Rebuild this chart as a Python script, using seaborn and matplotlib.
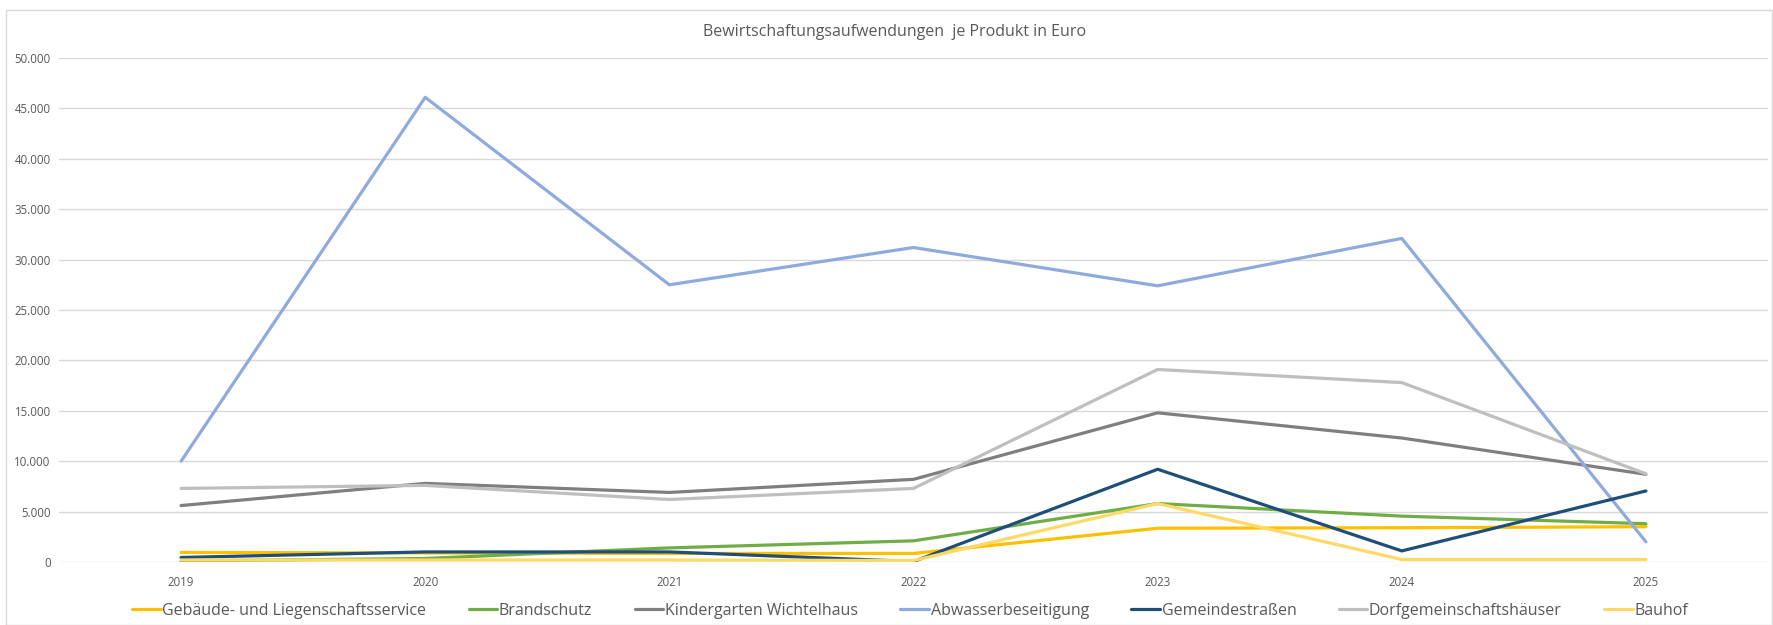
import pandas as pd
import matplotlib
matplotlib.use("Agg")
import matplotlib.pyplot as plt
import matplotlib.ticker as mticker
import seaborn as sns

years = ["2019", "2020", "2021", "2022", "2023", "2024", "2025"]
gebaeude = [950, 900, 850, 850, 3350, 3400, 3500]
brandschutz = [100, 350, 1400, 2100, 5800, 4550, 3800]
kindergarten = [5600, 7800, 6900, 8200, 14800, 12300, 8700]
abwasser = [10000, 46100, 27500, 31200, 27400, 32100, 2000]
strassen = [450, 1000, 1000, 50, 9200, 1100, 7050]
dorf = [7300, 7600, 6200, 7300, 19100, 17800, 8750]
bauhof = [200, 200, 200, 150, 5800, 250, 250]

series = {
    "Gebäude- und Liegenschaftsservice": gebaeude,
    "Brandschutz": brandschutz,
    "Kindergarten Wichtelhaus": kindergarten,
    "Abwasserbeseitigung": abwasser,
    "Gemeindestraßen": strassen,
    "Dorfgemeinschaftshäuser": dorf,
    "Bauhof": bauhof,
}
colors = ["#FFC000", "#70AD47", "#7F7F7F", "#8FAADC", "#1F4E79", "#BFBFBF", "#FFD966"]

rows = []
for name, vals in series.items():
    for i, v in enumerate(vals):
        rows.append({"Jahr": i, "Produkt": name, "Wert": v})
df = pd.DataFrame(rows)

sns.set_style("white")
plt.rcParams["font.family"] = ["Open Sans", "DejaVu Sans"]

fig = plt.figure(figsize=(17.74, 6.25), dpi=100)
ax = fig.add_axes([59 / 1774, 63 / 625, 1709 / 1774, 504 / 625])

sns.lineplot(data=df, x="Jahr", y="Wert", hue="Produkt", palette=colors,
             linewidth=2.3, ax=ax, legend=True)

ax.set_xlim(-0.5, 6.5)
ax.set_ylim(0, 50000)
ax.set_xticks(range(len(years)))
ax.set_xticklabels(years)
ax.yaxis.set_major_locator(mticker.MultipleLocator(5000))
ax.yaxis.set_major_formatter(mticker.FuncFormatter(lambda v, p: f"{int(v):,}".replace(",", ".")))
ax.grid(axis="y", color="#D9D9D9", linewidth=1)
ax.set_axisbelow(True)
for s in ax.spines.values():
    s.set_visible(False)
ax.tick_params(axis="both", length=0, labelsize=8.3, colors="#595959")
ax.tick_params(axis="x", pad=10)
ax.tick_params(axis="y", pad=6)
ax.set_xlabel("")
ax.set_ylabel("")

handles, labels = ax.get_legend_handles_labels()
ax.legend(handles, labels, loc="center", bbox_to_anchor=(0.498, -0.097),
          ncol=7, frameon=False, fontsize=11.5, handlelength=1.8, handletextpad=0.1,
          columnspacing=2.65, labelcolor="#595959")

fig.text(895 / 1774, 1 - 32 / 625, "Bewirtschaftungsaufwendungen  je Produkt in Euro",
         ha="center", va="center", fontsize=11.5, color="#595959")

fig.patches.append(plt.Rectangle((6 / 1774, 0), 1 - 8 / 1774, 1 - 10 / 625,
                                 transform=fig.transFigure, fill=False,
                                 edgecolor="#D9D9D9", linewidth=1))

fig.savefig("out.png", dpi=100)
